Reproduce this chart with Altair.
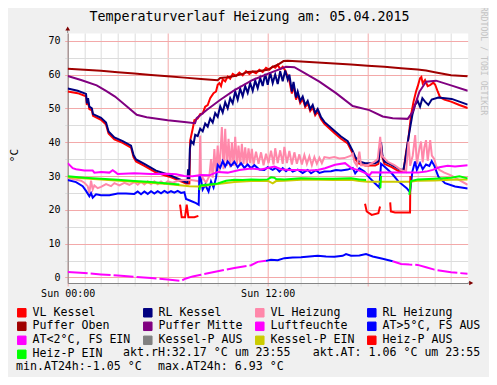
import altair as alt
import pandas as pd

# ---------------- texts ----------------
TITLE = "Temperaturverlauf Heizung am: 05.04.2015"
Y_TITLE = "°C"
WATERMARK = "RRDTOOL / TOBI OETIKER"
INFO_RH = "akt.rH:32.17 °C um 23:55"
INFO_AT = "akt.AT: 1.06 °C um 23:55"
INFO_MIN = "min.AT24h:-1.05 °C"
INFO_MAX = "max.AT24h: 6.93 °C"
X_LABELS = {0: "Sun 00:00", 12: "Sun 12:00"}

SERIES = ["VL Kessel", "RL Kessel", "VL Heizung", "RL Heizung",
          "Puffer Oben", "Puffer Mitte", "Luftfeuchte", "AT>5°C, FS AUS",
          "AT<2°C, FS EIN", "Kessel-P AUS", "Kessel-P EIN", "Heiz-P AUS", "Heiz-P EIN"]
COLORS = ["#ff0000", "#000080", "#ff88aa", "#0000ff",
          "#a00000", "#800080", "#ff00ff", "#0000ff",
          "#ff00ff", "#808080", "#cccc00", "#ff0000", "#00ff00"]

# ---------------- data: (hour, °C) ----------------
VL_KESSEL = [(0.0,55.0),(0.6,54.5),(1.1,53.6),(1.15,51.0),(1.22,52.0),(1.3,49.8),(1.45,49.4),(1.52,47.8),
    (2.0,46.6),(2.3,45.2),(2.45,42.6),(2.8,40.8),(3.3,39.8),(3.8,38.4),(3.95,35.6),(4.1,34.3),(4.6,33.0),
    (5.3,31.0),(6.1,29.8),(6.9,28.2),(7.1,27.8),(7.3,27.8),(7.35,40.5),(7.5,44.0),(7.6,46.5),(7.8,47.0),
    (7.95,48.3),(8.1,48.5),(8.25,50.5),(8.4,51.0),(8.55,53.0),(8.75,54.5),(8.9,55.0),(9.0,57.0),(9.1,57.5),
    (9.2,56.6),(9.3,58.6),(9.45,58.0),(9.6,59.4),(9.75,58.8),(9.9,60.2),(10.1,59.6),(10.3,60.6),(10.5,59.8),
    (10.7,61.0),(10.9,60.2),(11.1,60.9),(11.3,60.4),(11.5,61.4),(11.7,60.8),(11.9,62.0),(12.1,61.4),
    (12.3,62.4),(12.45,62.0),(12.6,62.9),(12.75,61.6),(12.9,62.3),(13.05,61.2),(13.2,59.4),(13.3,58.2),
    (13.45,54.4),(13.55,57.0),(13.7,52.6),(13.8,54.3),(13.95,51.6),(14.1,52.8),(14.25,50.4),(14.4,51.5),
    (14.55,49.2),(14.7,50.3),(14.85,48.0),(15.0,49.1),(15.2,46.8),(15.4,45.4),(16.0,42.7),(16.4,41.0),
    (16.8,39.6),(17.1,36.7),(17.25,35.0),(17.45,33.7),(17.85,33.1),(18.45,33.1),(18.64,33.6),(18.74,37.5),
    (18.8,39.3),(18.88,35.5),(19.0,33.6),(19.44,32.6),(19.94,31.2),(20.14,31.2),(20.3,37.0),(20.44,41.0),
    (20.6,48.0),(20.75,52.0),(20.9,55.0),(21.0,56.5),(21.14,58.9),(21.22,59.3),(21.3,57.4),(21.44,58.4),
    (21.6,56.6),(21.74,56.9),(21.94,57.6),(22.05,57.0),(22.2,55.0),(22.34,53.3),(22.6,52.6),(23.0,52.0),
    (23.5,51.0),(24.0,50.1)]

RL_KESSEL = [(0.0,55.9),(0.6,55.2),(1.1,54.3),(1.15,51.5),(1.22,53.0),(1.3,50.5),(1.45,50.0),(1.52,48.3),
    (2.0,47.2),(2.3,45.8),(2.45,43.2),(2.8,41.4),(3.3,40.3),(3.8,39.0),(3.95,36.2),(4.1,34.9),(4.6,33.6),
    (5.3,31.6),(6.1,30.3),(6.9,28.6),(7.1,28.1),(7.18,28.0),(7.22,32.0),(7.28,28.6),(7.33,38.0),(7.4,40.4),
    (7.55,39.5),(7.65,42.2),(7.8,41.8),(7.95,44.0),(8.1,43.2),(8.25,45.5),(8.4,44.6),(8.55,47.0),(8.7,45.8),
    (8.85,48.6),(9.0,47.5),(9.15,50.6),(9.3,48.8),(9.45,51.8),(9.6,50.0),(9.75,53.0),(9.9,51.5),(10.05,55.0),
    (10.2,52.6),(10.35,55.8),(10.5,53.6),(10.65,56.6),(10.8,54.6),(10.95,57.5),(11.1,55.2),(11.25,58.2),
    (11.4,56.0),(11.55,59.0),(11.7,56.6),(11.85,60.2),(12.0,57.0),(12.15,60.6),(12.3,57.5),(12.45,60.0),
    (12.6,57.2),(12.75,61.0),(12.9,58.0),(13.05,61.2),(13.2,58.5),(13.3,60.0),(13.45,55.0),(13.55,57.8),
    (13.7,53.2),(13.8,55.0),(13.95,52.2),(14.1,53.5),(14.25,51.0),(14.4,52.2),(14.55,49.8),(14.7,51.0),
    (14.85,48.6),(15.0,49.8),(15.2,47.4),(15.4,46.0),(16.0,43.4),(16.4,41.7),(16.8,40.3),(17.1,37.4),
    (17.25,35.7),(17.45,34.4),(17.85,33.8),(18.45,33.8),(18.64,34.3),(18.74,38.2),(18.8,40.0),(18.88,36.2),
    (19.0,34.3),(19.44,33.3),(19.94,31.9),(20.14,31.8),(20.24,34.3),(20.34,37.7),(20.44,41.2),(20.54,44.1),
    (20.68,48.1),(20.84,51.0),(21.0,52.2),(21.14,50.5),(21.28,53.0),(21.44,52.0),(21.64,51.0),(21.84,52.6),
    (22.24,53.2),(23.04,52.8),(23.5,52.0),(24.0,51.1)]

VL_HEIZUNG = [(0.0,29.4),(0.4,29.0),(0.8,28.6),(1.0,28.0),(1.2,27.0),(1.3,25.0),(1.4,28.6),(1.5,26.0),
    (1.6,27.2),(1.8,26.4),(2.0,26.8),(2.3,27.6),(2.6,27.0),(2.8,27.9),(3.1,27.2),(3.4,28.0),(3.7,27.4),
    (4.0,28.2),(4.2,27.4),(4.4,28.3),(4.6,27.5),(4.8,28.4),(5.0,27.6),(5.2,28.4),(5.4,27.6),(5.6,28.4),
    (5.8,27.7),(6.0,28.4),(6.3,28.0),(6.6,28.6),(7.0,28.8),(7.4,28.8),(7.8,28.5),(7.9,28.2),(7.95,42.0),
    (8.0,28.5),(8.1,29.5),(8.3,28.0),(8.5,30.0),(8.6,35.0),(8.7,29.5),(8.8,38.0),(8.9,30.5),(9.0,39.0),
    (9.1,31.0),(9.25,44.5),(9.35,32.0),(9.45,44.0),(9.55,33.0),(9.65,41.0),(9.75,32.5),(9.85,40.0),
    (9.95,33.0),(10.05,41.6),(10.15,33.5),(10.25,39.0),(10.35,33.0),(10.45,39.5),(10.55,33.6),(10.65,38.5),
    (10.75,33.2),(10.85,38.2),(10.95,33.8),(11.05,38.0),(11.15,33.4),(11.3,37.2),(11.45,33.6),(11.6,37.0),
    (11.75,33.2),(11.9,36.6),(12.05,33.8),(12.2,37.5),(12.35,33.4),(12.45,38.2),(12.6,33.8),(12.75,37.6),
    (12.9,33.6),(13.0,38.6),(13.15,33.8),(13.3,37.4),(13.45,33.4),(13.6,37.0),(13.75,33.6),(13.9,36.4),
    (14.05,33.4),(14.2,36.2),(14.35,33.6),(14.5,35.8),(14.65,33.2),(14.8,35.6),(14.95,33.6),(15.1,35.4),
    (15.25,33.8),(15.4,35.6),(15.7,35.3),(16.0,35.6),(16.3,35.2),(16.6,35.3),(17.0,36.0),(17.1,36.6),
    (17.2,34.2),(17.35,33.0),(17.5,37.2),(17.6,33.2),(18.0,33.2),(18.4,34.2),(18.6,35.0),(18.75,41.6),
    (18.85,36.0),(19.2,34.2),(19.6,33.2),(20.0,31.8),(20.3,31.2),(20.45,40.2),(20.55,33.0),(20.7,36.0),
    (20.85,42.1),(20.95,33.5),(21.1,38.0),(21.2,40.2),(21.3,34.0),(21.4,38.5),(21.5,40.6),(21.6,34.5),
    (21.75,40.6),(21.85,36.0),(22.0,35.0),(22.1,33.0),(22.3,31.8),(22.6,31.0),(23.0,30.2),(23.5,28.8),
    (24.0,27.4)]

RL_HEIZUNG = [(0.0,28.8),(0.5,28.2),(0.9,27.0),(1.1,25.6),(1.3,24.0),(1.4,24.9),(1.5,23.6),(1.7,24.6),
    (2.0,24.3),(2.5,24.3),(3.0,24.8),(3.5,24.8),(4.0,24.7),(4.2,25.4),(4.4,24.6),(4.6,25.4),(4.8,24.7),
    (5.0,25.5),(5.2,24.8),(5.4,25.5),(5.6,24.9),(5.8,25.6),(6.0,25.0),(6.2,25.5),(6.4,25.1),(6.6,25.6),
    (6.8,25.0),(7.0,25.2),(7.1,23.2),(7.4,22.6),(7.7,22.0),(7.86,21.5),(7.9,30.3),(8.0,28.8),(8.1,26.0),
    (8.25,27.4),(8.45,25.4),(8.6,28.4),(8.75,26.6),(8.9,29.5),(9.0,33.3),(9.15,32.4),(9.3,34.4),(9.45,32.8),
    (9.6,34.3),(9.8,33.0),(10.0,34.2),(10.2,32.6),(10.4,33.8),(10.6,32.4),(10.8,33.4),(11.0,32.3),
    (11.2,33.2),(11.5,31.9),(11.8,31.8),(12.0,32.6),(12.3,31.8),(12.5,32.4),(12.7,31.3),(12.9,32.3),
    (13.1,31.4),(13.3,32.2),(13.5,31.3),(13.8,31.9),(14.1,30.9),(14.4,31.8),(14.6,30.8),(14.9,31.7),
    (15.1,30.9),(15.4,31.3),(15.8,31.4),(16.1,31.8),(16.4,31.6),(16.8,31.9),(17.1,32.4),(17.25,30.8),
    (17.5,32.3),(17.8,31.3),(18.1,29.5),(18.4,28.0),(18.7,26.6),(18.8,33.6),(19.0,32.8),(19.44,30.8),
    (19.84,28.4),(20.34,26.4),(20.54,25.2),(20.68,31.3),(20.84,34.3),(20.95,31.8),(21.14,33.8),(21.3,32.0),
    (21.5,33.4),(21.7,33.0),(21.84,34.4),(22.0,33.0),(22.24,29.8),(22.64,27.9),(23.24,26.9),(24.0,26.3)]

PUFFER_OBEN = [(0.0,61.7),(1.0,61.4),(2.0,61.1),(3.0,60.7),(4.0,60.3),(5.0,59.9),(6.0,59.5),(7.0,59.1),
    (8.0,58.7),(9.0,58.3),(9.15,59.0),(9.6,59.2),(10.0,59.6),(10.5,60.2),(10.8,60.8),(11.4,61.0),(12.0,61.4),
    (12.3,62.3),(12.6,62.9),(12.95,64.0),(13.2,64.1),(14.0,63.9),(15.0,63.6),(16.0,63.3),(17.0,63.0),
    (18.0,62.6),(19.0,62.3),(20.0,61.9),(21.0,61.5),(21.5,61.2),(22.1,60.6),(23.0,59.8),(24.0,59.5)]

PUFFER_MITTE = [(0.0,59.6),(0.8,58.4),(1.74,56.8),(2.3,55.2),(2.84,53.5),(3.5,50.8),(4.14,48.1),(4.74,47.4),
    (6.0,46.5),(7.0,46.0),(7.64,45.6),(7.74,47.1),(8.34,49.5),(9.14,52.5),(9.94,55.2),(11.1,58.4),
    (12.3,60.8),(13.1,62.3),(13.6,62.2),(14.3,60.2),(15.1,57.9),(16.1,54.5),(17.1,50.7),(18.1,49.5),
    (18.9,47.6),(19.5,47.1),(20.4,46.9),(20.7,49.0),(21.1,54.9),(21.5,57.9),(22.1,58.2),(23.0,56.8),(24.0,55.2)]

LUFTFEUCHTE = [(0.0,33.8),(0.3,32.3),(0.5,32.0),(1.0,31.6),(1.5,31.6),(1.6,31.0),(2.0,31.2),(2.5,31.0),
    (2.7,31.7),(2.9,31.0),(3.0,30.6),(4.0,30.8),(5.0,30.6),(6.0,30.7),(6.5,30.5),(7.0,30.0),(7.5,29.9),
    (8.0,30.3),(8.5,30.2),(9.0,31.2),(9.6,31.0),(10.3,31.8),(11.0,32.2),(11.6,31.9),(12.4,32.8),(12.8,32.0),
    (13.3,31.8),(14.0,31.8),(14.5,31.6),(15.0,31.8),(15.44,32.3),(16.04,33.3),(16.64,33.8),(17.04,32.3),
    (17.5,31.6),(17.9,30.8),(18.1,30.2),(18.24,31.1),(19.0,31.0),(20.0,31.0),(21.0,31.0),(21.5,31.3),
    (21.9,31.8),(22.3,32.6),(22.8,33.0),(23.24,32.8),(24.0,33.2)]

AT_WARM = [(11.9,4.9),(12.2,5.2),(12.6,5.1),(13.0,5.7),(13.5,5.9),(14.0,6.0),(14.5,6.2),(15.0,6.4),
    (15.5,6.2),(16.0,6.1),(16.5,6.4),(16.7,6.9),(17.0,6.4),(17.5,6.5),(17.9,6.9),(18.3,6.2),(18.9,5.5),(19.5,4.8)]

AT_COLD = [(0.0,1.6),(1.0,1.3),(2.0,0.9),(3.0,0.6),(4.0,0.2),(5.0,-0.2),(6.0,-0.6),(6.8,-1.0),(7.1,-0.3),
    (7.5,0.3),(8.0,0.8),(9.0,1.8),(10.0,2.8),(11.0,3.6),(11.4,4.6),(11.9,4.9), None,
    (19.5,4.8),(20.0,4.0),(20.5,3.8),(21.0,3.7),(21.5,3.0),(22.0,2.3),(22.5,1.9),(23.0,1.5),(23.5,1.3),(24.0,1.06)]

KESSEL_P_EIN = [(0.0,29.6),(2.0,29.0),(4.0,28.3),(6.0,27.6),(7.3,27.0),(7.9,26.9),(8.5,27.3),(9.0,27.6),
    (10.0,28.2),(11.0,28.5),(12.0,28.6),(12.3,27.8),(12.5,28.5),(13.0,28.6),(14.0,28.9),(15.0,28.9),
    (16.0,28.8),(17.0,28.9),(17.5,28.5),(18.0,28.3),(19.0,28.3),(20.0,28.3),(20.5,28.3),(21.0,28.6),
    (22.0,28.7),(23.0,28.9),(24.0,29.0)]

HEIZ_P_AUS = [(6.74,21.5),(6.84,17.8),(7.04,17.8),(7.14,21.5),(7.24,17.8),(7.6,17.8),(7.84,18.2), None,
    (17.84,21.8),(17.94,19.5),(18.24,18.5),(18.64,19.0),(18.74,21.0), None,
    (19.35,22.2),(19.39,19.5),(19.64,19.2),(20.54,19.2),(20.56,30.0)]

HEIZ_P_EIN = [(0.0,29.9),(1.0,29.5),(2.0,29.2),(3.0,28.9),(4.0,28.5),(5.0,28.2),(6.0,27.8),(6.7,27.5), None,
    (7.9,25.8),(7.95,27.2),(8.5,27.5),(9.0,27.8),(9.5,28.6),(10.0,28.9),(10.5,28.8),(11.0,29.0),(11.5,28.9),
    (12.0,29.0),(12.2,29.6),(12.4,29.5),(12.5,29.1),(13.0,29.0),(14.0,29.3),(15.0,29.2),(16.0,29.2),
    (17.0,29.3),(17.5,29.0),(17.9,28.8), None,
    (18.76,26.4),(18.8,30.0), None,
    (20.5,24.4),(20.6,28.5),(21.0,29.0),(22.0,29.2),(23.0,29.5),(23.5,29.9),(24.0,29.3)]

DATA = [("VL Kessel", VL_KESSEL), ("RL Kessel", RL_KESSEL), ("VL Heizung", VL_HEIZUNG),
        ("RL Heizung", RL_HEIZUNG), ("Puffer Oben", PUFFER_OBEN), ("Puffer Mitte", PUFFER_MITTE),
        ("Luftfeuchte", LUFTFEUCHTE), ("AT>5°C, FS AUS", AT_WARM), ("AT<2°C, FS EIN", AT_COLD),
        ("Kessel-P EIN", KESSEL_P_EIN), ("Heiz-P AUS", HEIZ_P_AUS), ("Heiz-P EIN", HEIZ_P_EIN)]


def to_frame(name, pts):
    rows, seg = [], 0
    for p in pts:
        if p is None:
            seg += 1
            continue
        rows.append({"h": p[0], "v": p[1], "series": name, "seg": f"{name}#{seg}"})
    return pd.DataFrame(rows)


frames = {name: to_frame(name, pts) for name, pts in DATA}
all_data = pd.concat(frames.values(), ignore_index=True)

# ---------------- styling ----------------
MONO = "DejaVu Sans Mono"
MAJOR = "#f3a9a9"
MINOR = "#dcdcdc"
AXIS = "#858585"
ARROW = "#7f0000"

x_label_expr = " : ".join(f"datum.value == {k} ? '{v}'" for k, v in X_LABELS.items()) + " : ''"

x_axis = alt.Axis(values=list(range(24)), labelExpr=x_label_expr, title=None,
                  grid=True, gridWidth=1,
                  gridColor={"condition": {"test": "datum.value % 6 == 0", "value": MAJOR}, "value": MINOR},
                  tickColor={"condition": {"test": "datum.value % 6 == 0", "value": MAJOR}, "value": MINOR},
                  tickSize=3, domainColor=AXIS, labelFont=MONO, labelFontSize=10, labelColor="black",
                  labelPadding=2.5, labelOverlap=False, labelFlush=False)
y_axis = alt.Axis(values=list(range(0, 71, 5)),
                  labelExpr="datum.value % 10 == 0 ? datum.label : ''",
                  grid=True, gridWidth=1,
                  gridColor={"condition": {"test": "datum.value % 10 == 0", "value": MAJOR}, "value": MINOR},
                  tickColor={"condition": {"test": "datum.value % 10 == 0", "value": MAJOR}, "value": MINOR},
                  tickSize=3, domainColor=AXIS, labelFont=MONO, labelFontSize=10, labelColor="black",
                  labelPadding=4.7, labelOverlap=False, labelFlush=False,
                  title=Y_TITLE, titleFont=MONO, titleFontSize=11, titleFontWeight="normal",
                  titleColor="black", titleX=-53.2, titleY=122, titleAngle=270,
                  titleAlign="center", titleBaseline="middle")

X = alt.X("h:Q", scale=alt.Scale(domain=[0, 24], nice=False, zero=False), axis=x_axis)
Y = alt.Y("v:Q", scale=alt.Scale(domain=[-1.65, 72.3], nice=False, zero=False), axis=y_axis)
color_scale = alt.Scale(domain=SERIES, range=COLORS)

legend = alt.Legend(title=None, orient="none", legendX=-51.7, legendY=273.5, direction="horizontal",
                    columns=4, gridAlign="each", columnPadding=10, rowPadding=0,
                    symbolType="square", symbolSize=72, symbolStrokeColor="black",
                    symbolStrokeWidth=1, symbolOpacity=1, labelFont=MONO,
                    labelFontSize=11.6, labelColor="black", labelOffset=5, labelLimit=300)

layers = [
    # invisible squares on the real data that carry the filled-square legend
    alt.Chart(all_data).mark_square(size=0, filled=True).encode(
        x=X, y=Y,
        fill=alt.Fill("series:N", scale=alt.Scale(domain=SERIES, range=COLORS), legend=legend))
]
for name, _ in DATA:
    kw = {"strokeWidth": 2, "clip": True}
    if name == "AT<2°C, FS EIN":
        kw["strokeDash"] = [20, 3]
    layers.append(
        alt.Chart(frames[name]).mark_line(**kw).encode(
            x=X, y=Y,
            color=alt.Color("series:N", scale=color_scale, legend=None),
            detail="seg:N"))


def text_layer(text, x, y, size, color="black", angle=0, align="left"):
    return alt.Chart(pd.DataFrame({"t": [text]})).mark_text(
        font=MONO, fontSize=size, color=color, align=align, baseline="middle", angle=angle
    ).encode(text="t:N", x=alt.value(x), y=alt.value(y))


layers.append(text_layer(TITLE, 181.8, -16, 13.3, align="center"))
layers.append(text_layer(WATERMARK, 415.5, -26.3, 8.2, color="#c4c4c4", angle=90))
layers.append(text_layer(INFO_RH, 55.3, 320, 11.6))
layers.append(text_layer(INFO_AT, 245.0, 320, 11.6))
layers.append(text_layer(INFO_MIN, -51.7, 334, 11.6))
layers.append(text_layer(INFO_MAX, 90.3, 334, 11.6))

one = pd.DataFrame({"k": [0]})
layers.append(alt.Chart(one).mark_rule(color=AXIS, strokeWidth=1).encode(
    x=alt.value(0), y=alt.value(-5), y2=alt.value(0)))
layers.append(alt.Chart(one).mark_rule(color=AXIS, strokeWidth=1).encode(
    x=alt.value(400), x2=alt.value(404), y=alt.value(250)))
layers.append(alt.Chart(one).mark_point(shape="triangle-up", filled=True, size=22, color=ARROW, opacity=1).encode(
    x=alt.value(0), y=alt.value(-4.5)))
layers.append(alt.Chart(one).mark_point(shape="triangle-right", filled=True, size=22, color=ARROW, opacity=1).encode(
    x=alt.value(403.5), y=alt.value(250)))

chart = alt.layer(*layers).properties(
    width=400, height=250,
    autosize=alt.AutoSizeParams(type="none"),
    padding={"left": 59.7, "top": 25, "right": 21.3, "bottom": 94},
    background="#f0f0f0",
).configure_view(fill="white", stroke="transparent")

chart.save("out.html", embed_options={"renderer": "svg", "actions": False})
